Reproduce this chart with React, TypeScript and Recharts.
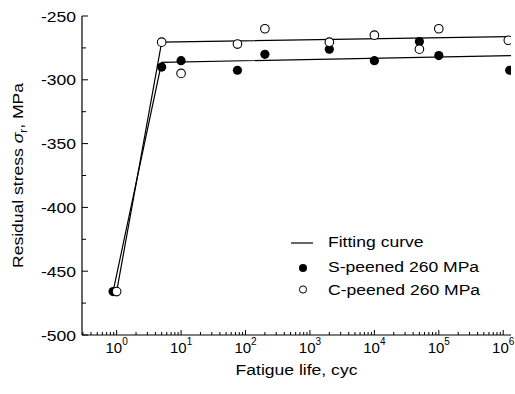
import React from "react";
import { ScatterChart, Scatter, XAxis, YAxis, Legend, Label } from "recharts";

// S-peened 260 MPa (filled dots)
const sPeenedCycles = [0.88, 5, 10, 75, 200, 2000, 10000, 50000, 100000, 1260000];
const sPeenedStress = [-466, -290, -285, -292.5, -280, -276, -285, -270, -281, -292.5];

// C-peened 260 MPa (open circles)
const cPeenedCycles = [1, 5, 10, 75, 200, 2000, 10000, 50000, 100000, 1200000];
const cPeenedStress = [-466, -270.5, -295, -272, -260, -270.5, -265, -276, -260, -269];

// fitting curves
const sFitCycles = [0.88, 5, 1320000];
const sFitStress = [-466, -286.3, -281];
const cFitCycles = [1, 5, 1200000];
const cFitStress = [-466, -270.5, -266.2];

const xMajorTicks = [1, 10, 100, 1000, 10000, 100000, 1000000];
const yMajorTicks = [-500, -450, -400, -350, -300, -250];
const yMinorTicks = [-475, -425, -375, -325, -275];

const X_DOMAIN: [number, number] = [0.29, 1.32e6];
const Y_DOMAIN: [number, number] = [-500, -250];

const xMinorTicks: number[] = [];
for (let d = -1; d <= 5; d++) {
  for (let m = 2; m <= 9; m++) {
    const v = m * Math.pow(10, d);
    if (v >= X_DOMAIN[0] && v <= X_DOMAIN[1]) xMinorTicks.push(v);
  }
}
const allXTicks = [...xMinorTicks, ...xMajorTicks].sort((a, b) => a - b);
const allYTicks = [...yMajorTicks, ...yMinorTicks].sort((a, b) => a - b);

const toPoints = (xs: number[], ys: number[]) => xs.map((x, i) => ({ x, y: ys[i] }));
const sPeened = toPoints(sPeenedCycles, sPeenedStress);
const cPeened = toPoints(cPeenedCycles, cPeenedStress);
const sFit = toPoints(sFitCycles, sFitStress);
const cFit = toPoints(cFitCycles, cFitStress);

const FONT = "'Liberation Sans', Arial, Helvetica, sans-serif";
const STRETCH = 1.17; // the original text is a bit wider than Arial

const StretchText = ({ x, y, anchor = "start", rotate = 0, size = 15, children }: any) => (
  <text
    transform={`translate(${x} ${y}) rotate(${rotate}) scale(${STRETCH} 1)`}
    textAnchor={anchor}
    fontSize={size}
    fontFamily={FONT}
    fill="#000"
  >
    {children}
  </text>
);

const isMajorX = (v: number) => xMajorTicks.includes(v);

const BottomTick = (props: any) => {
  const { x, y, payload } = props;
  const major = isMajorX(payload.value);
  return (
    <g>
      <line x1={x} x2={x} y1={y} y2={y - (major ? 5 : 3)} stroke="#000" />
      {major && (
        <text x={x} y={y + 18} textAnchor="middle" fontSize={15} fontFamily={FONT} fill="#000">
          10
          <tspan dy={-8} fontSize={10}>
            {Math.round(Math.log10(payload.value))}
          </tspan>
        </text>
      )}
    </g>
  );
};

const TopTick = (props: any) => {
  const { x, y, payload } = props;
  const major = isMajorX(payload.value);
  return <line x1={x} x2={x} y1={y} y2={y + (major ? 5 : 3)} stroke="#000" />;
};

const LeftTick = (props: any) => {
  const { x, y, payload } = props;
  const major = yMajorTicks.includes(payload.value);
  return (
    <g>
      <line x1={x} x2={x + (major ? 6 : 4)} y1={y} y2={y} stroke="#000" />
      {major && (
        <StretchText x={x - 6} y={y + 5.5} anchor="end">
          {payload.value}
        </StretchText>
      )}
    </g>
  );
};

const XTitle = (props: any) => {
  const { viewBox } = props;
  return (
    <StretchText x={viewBox.x + viewBox.width / 2} y={viewBox.y + 40} anchor="middle">
      Fatigue life, cyc
    </StretchText>
  );
};

const YTitle = (props: any) => {
  const { viewBox } = props;
  return (
    <StretchText x={23} y={viewBox.y + viewBox.height / 2} anchor="middle" rotate={-90}>
      Residual stress{" "}
      <tspan fontStyle="italic">σ</tspan>
      <tspan fontSize={10} dy={4}>r</tspan>
      <tspan dy={-4}>, MPa</tspan>
    </StretchText>
  );
};

const LegendBox = () => (
  <svg width={230} height={80}>
    <line x1={11} x2={33} y1={18} y2={18} stroke="#000" strokeWidth={1.2} />
    <StretchText x={48} y={22}>Fitting curve</StretchText>
    <circle cx={23} cy={43} r={4} fill="#000" />
    <StretchText x={48} y={46.5}>S-peened 260 MPa</StretchText>
    <circle cx={23} cy={64.5} r={3.6} fill="#fff" stroke="#000" strokeWidth={1} />
    <StretchText x={48} y={69.5}>C-peened 260 MPa</StretchText>
  </svg>
);

const FilledDot = (props: any) => <circle cx={props.cx} cy={props.cy} r={4.6} fill="#000" />;
const OpenDot = (props: any) => (
  <circle cx={props.cx} cy={props.cy} r={4.3} fill="#fff" stroke="#000" strokeWidth={1.1} />
);
const NoDot = () => <g />;

export default function App() {
  return (
    <div style={{ position: "absolute", left: 0, top: 0, background: "#fff" }}>
      <ScatterChart width={515} height={394} margin={{ top: 16, right: 4, bottom: 0, left: 0 }}>
        <XAxis
          dataKey="x"
          type="number"
          scale="log"
          domain={X_DOMAIN}
          allowDataOverflow
          ticks={allXTicks}
          interval={0}
          tick={<BottomTick />}
          tickLine={false}
          tickSize={0}
          tickMargin={0}
          height={59}
          axisLine={{ stroke: "#000", strokeWidth: 1.2 }}
        >
          <Label content={<XTitle />} />
        </XAxis>
        <XAxis
          xAxisId="top"
          orientation="top"
          dataKey="x"
          type="number"
          scale="log"
          domain={X_DOMAIN}
          allowDataOverflow
          ticks={allXTicks}
          interval={0}
          tick={<TopTick />}
          tickLine={false}
          tickSize={0}
          tickMargin={0}
          height={0}
          axisLine={{ stroke: "#000", strokeWidth: 1.2 }}
        />
        <YAxis
          dataKey="y"
          type="number"
          domain={Y_DOMAIN}
          allowDataOverflow
          ticks={allYTicks}
          interval={0}
          tick={<LeftTick />}
          tickLine={false}
          tickSize={0}
          tickMargin={0}
          width={82}
          axisLine={{ stroke: "#000", strokeWidth: 1.2 }}
        >
          <Label content={<YTitle />} />
        </YAxis>
        <YAxis
          yAxisId="right"
          orientation="right"
          type="number"
          domain={Y_DOMAIN}
          allowDataOverflow
          tick={false}
          tickLine={false}
          width={0}
          axisLine={{ stroke: "#000", strokeWidth: 1.2 }}
        />
        <Legend
          layout="vertical"
          align="center"
          verticalAlign="middle"
          content={<LegendBox />}
          wrapperStyle={{ position: "absolute", left: 280, top: 225, width: 230, height: 80 }}
        />
        <Scatter
          name="Fit S"
          data={sFit}
          line={{ stroke: "#000", strokeWidth: 1.2 }}
          shape={<NoDot />}
          legendType="none"
          isAnimationActive={false}
        />
        <Scatter
          name="Fit C"
          data={cFit}
          line={{ stroke: "#000", strokeWidth: 1.2 }}
          shape={<NoDot />}
          legendType="none"
          isAnimationActive={false}
        />
        <Scatter name="S-peened 260 MPa" data={sPeened} shape={<FilledDot />} isAnimationActive={false} />
        <Scatter name="C-peened 260 MPa" data={cPeened} shape={<OpenDot />} isAnimationActive={false} />
      </ScatterChart>
    </div>
  );
}
